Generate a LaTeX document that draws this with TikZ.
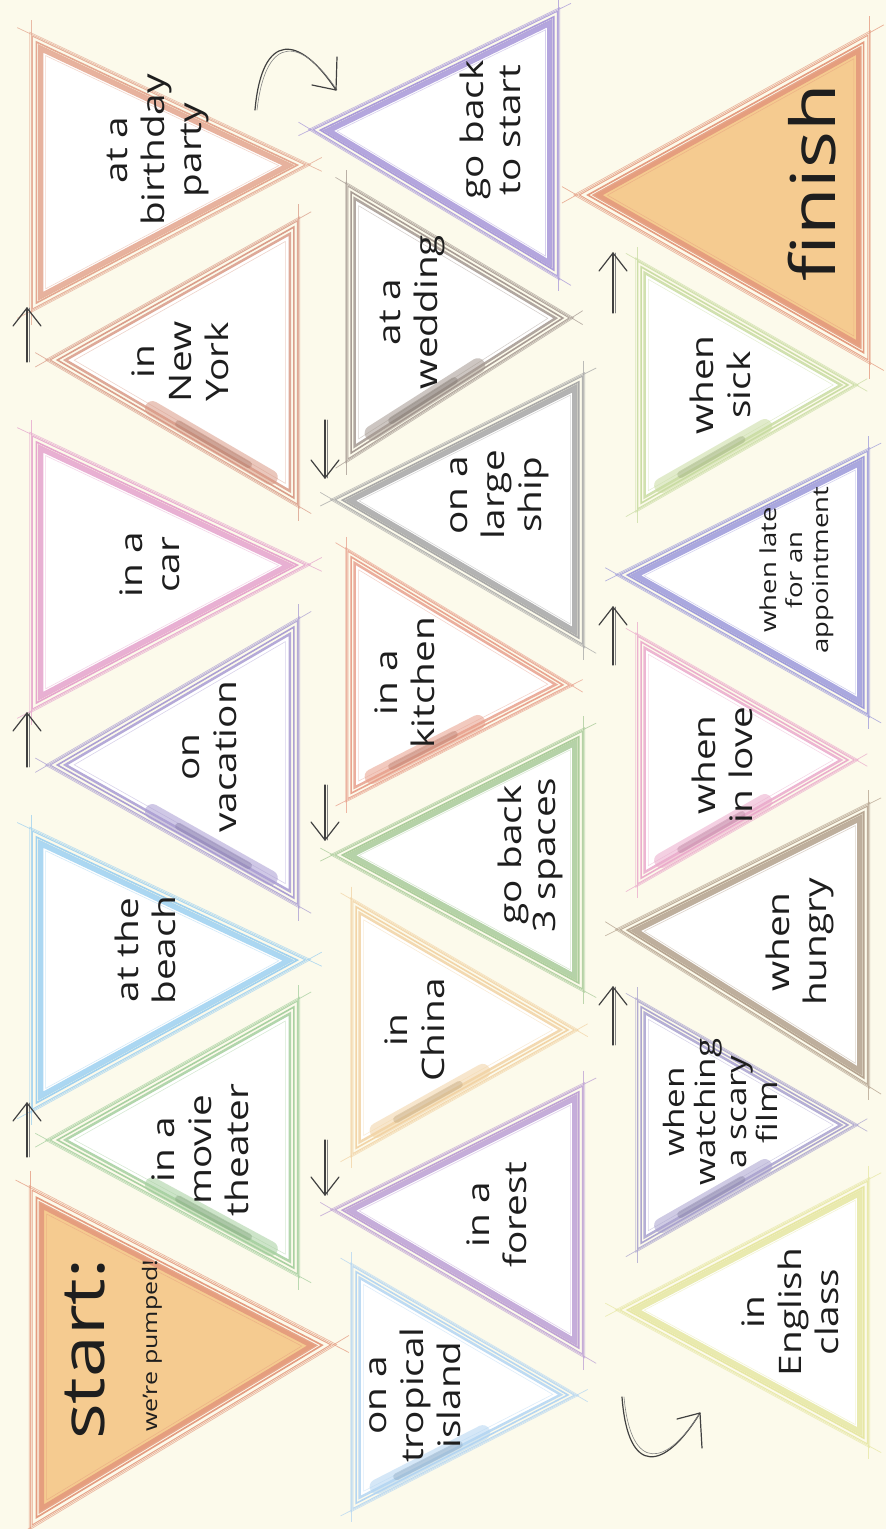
\documentclass[tikz,border=0pt]{standalone}
\usepackage{fontspec}
\setmainfont[FakeStretch=1.25]{Open Sans}
\usetikzlibrary{calc,arrows.meta}
\definecolor{bgc}{HTML}{FCFAEB}
\definecolor{cSalmon}{HTML}{E3A58E}
\definecolor{cNY}{HTML}{D99A86}
\definecolor{cPink}{HTML}{E5A3CC}
\definecolor{cLav}{HTML}{A99CD2}
\definecolor{cBlue}{HTML}{9DD0F0}
\definecolor{cGreen}{HTML}{A5CF9E}
\definecolor{cOrFill}{HTML}{F5CB90}
\definecolor{cOrLine}{HTML}{E3977B}
\definecolor{cPurp}{HTML}{A797D9}
\definecolor{cWed}{HTML}{A49890}
\definecolor{cGray}{HTML}{A6A6A6}
\definecolor{cKit}{HTML}{E8A08C}
\definecolor{cGreenB}{HTML}{A9CB99}
\definecolor{cPeach}{HTML}{F2D3A4}
\definecolor{cPurpB}{HTML}{BC9FD4}
\definecolor{cBlueB}{HTML}{B3D5F2}
\definecolor{cLime}{HTML}{C9DCA2}
\definecolor{cIndigo}{HTML}{9C99DA}
\definecolor{cPinkB}{HTML}{EBAACB}
\definecolor{cBrown}{HTML}{B3A18D}
\definecolor{cPurpC}{HTML}{A9A2CE}
\definecolor{cYellow}{HTML}{E6E7A2}
\definecolor{ink}{HTML}{1E1E1E}
\tikzset{
  lbl/.style={rotate=90, align=center, inner sep=0pt, text=ink, font=\fontsize{31}{37}\selectfont},
  hand/.style={draw=ink!85, line width=1.2pt, line cap=round, line join=round},
  handtwo/.style={draw=ink!55, line width=0.6pt, line cap=round},
}
% #1 id, #2 apex x, #3 apex y, #4 base x, #5 base top y, #6 base bottom y, #7 colour, #8 fill, #9 band width
\newcommand{\sketchtri}[9]{%
  \coordinate (#1-a) at (#2,#3);
  \coordinate (#1-b) at (#4,#5);
  \coordinate (#1-c) at (#4,#6);
  \coordinate (#1-g) at ({(#2+2*#4)/3},{(#3+#5+#6)/3});
  \fill[#8] ($(#1-g)!0.95!(#1-a)$) -- ($(#1-g)!0.95!(#1-b)$) -- ($(#1-g)!0.95!(#1-c)$) -- cycle;
  \draw[#7, line width=#9, opacity=0.85, line join=miter]
      ($(#1-g)!0.935!(#1-a)$) -- ($(#1-g)!0.935!(#1-b)$) -- ($(#1-g)!0.935!(#1-c)$) -- cycle;
  \foreach \f/\w/\o in {0.985/1.6pt/0.95, 1.03/1pt/0.85, 1.06/0.7pt/0.65, 0.88/0.6pt/0.45}{
    \draw[#7, line width=\w, opacity=\o, line join=miter]
      ($(#1-g)!\f!(#1-a)$) -- ($(#1-g)!\f!(#1-b)$) -- ($(#1-g)!\f!(#1-c)$) -- cycle;
  }
  \coordinate (#1-a2) at ($(#1-g)!1.045!(#1-a)$);
  \coordinate (#1-b2) at ($(#1-g)!1.045!(#1-b)$);
  \coordinate (#1-c2) at ($(#1-g)!1.045!(#1-c)$);
  \foreach \p/\q in {a/b,b/c,c/a}{
    \draw[#7, line width=0.7pt, opacity=0.75]
      ($(#1-\p2)!-0.05!(#1-\q2)$) -- ($(#1-\q2)!-0.05!(#1-\p2)$);
  }
}
\newcommand{\smudge}[2]{%
  \coordinate (#1-c1) at ($(#1-g)!0.91!(#1-c)$);
  \coordinate (#1-a1) at ($(#1-g)!0.91!(#1-a)$);
  \draw[#2, line width=15pt, opacity=0.55, line cap=round]
    ($(#1-c1)!0.08!(#1-a1)$) -- ($(#1-c1)!0.62!(#1-a1)$);
  \draw[#2!80!black, line width=7pt, opacity=0.45, line cap=round]
    ($(#1-c1)!0.18!(#1-a1)$) -- ($(#1-c1)!0.5!(#1-a1)$);
}
% straight hand arrow: start, end, wing dy (positive = wings below tip)
\newcommand{\handarrow}[3]{%
  \draw[hand] (#1) -- (#2);
  \draw[handtwo] ([xshift=2pt]#1) -- ([xshift=2pt]#2);
  \draw[hand] ([shift={(-14,#3)}]#2) -- (#2) -- ([shift={(14,#3)}]#2);
}
\begin{document}
\begin{tikzpicture}[x=1pt,y={(0pt,-1pt)}]
\useasboundingbox (0,0) rectangle (886,1529);
\fill[bgc] (0,0) rectangle (886,1529);

% column 1
\sketchtri{t1}{300}{165}{35}{40}{305}{cSalmon}{white}{5.5pt}
\sketchtri{t2}{55}{360}{295}{225}{500}{cNY}{white}{2.5pt}\smudge{t2}{cNY}
\sketchtri{t3}{300}{565}{35}{440}{705}{cPink}{white}{5.5pt}
\sketchtri{t4}{55}{765}{295}{625}{900}{cLav}{white}{2.5pt}\smudge{t4}{cLav}
\sketchtri{t5}{300}{960}{35}{835}{1105}{cBlue}{white}{5.5pt}
\sketchtri{t6}{55}{1140}{295}{1005}{1270}{cGreen}{white}{2.5pt}\smudge{t6}{cGreen}
\sketchtri{st}{325}{1345}{35}{1195}{1520}{cOrLine}{cOrFill}{5.5pt}

% column 2
\sketchtri{u1}{318}{130}{555}{15}{272}{cPurp}{white}{5.5pt}
\sketchtri{u2}{565}{318}{350}{190}{455}{cWed}{white}{2.5pt}\smudge{u2}{cWed}
\sketchtri{u3}{340}{500}{580}{380}{640}{cGray}{white}{5.5pt}
\sketchtri{u4}{565}{685}{350}{555}{795}{cKit}{white}{2.5pt}\smudge{u4}{cKit}
\sketchtri{u5}{340}{855}{580}{735}{985}{cGreenB}{white}{5.5pt}
\sketchtri{u6}{570}{1030}{355}{905}{1150}{cPeach}{white}{2.5pt}\smudge{u6}{cPeach}
\sketchtri{u7}{340}{1210}{580}{1090}{1350}{cPurpB}{white}{5.5pt}
\sketchtri{u8}{570}{1395}{355}{1270}{1505}{cBlueB}{white}{2.5pt}\smudge{u8}{cBlueB}

% column 3
\sketchtri{fi}{585}{195}{865}{40}{355}{cOrLine}{cOrFill}{5.5pt}
\sketchtri{v1}{850}{385}{640}{265}{505}{cLime}{white}{2.5pt}\smudge{v1}{cLime}
\sketchtri{v2}{625}{575}{865}{455}{710}{cIndigo}{white}{5.5pt}
\sketchtri{v3}{850}{760}{640}{640}{880}{cPinkB}{white}{2.5pt}\smudge{v3}{cPinkB}
\sketchtri{v4}{625}{930}{865}{810}{1080}{cBrown}{white}{5.5pt}
\sketchtri{v5}{850}{1125}{640}{1005}{1245}{cPurpC}{white}{2.5pt}\smudge{v5}{cPurpC}
\sketchtri{v6}{625}{1310}{865}{1185}{1440}{cYellow}{white}{5.5pt}

% labels
\node[lbl] (l-t1) at (158,150) {at a\\birthday\\party};
\node[lbl] (l-t2) at (180,362) {in\\New\\York};
\node[lbl] (l-t3) at (150,565) {in a\\car};
\node[lbl] (l-t4) at (210,757) {on\\vacation};
\node[lbl] (l-t5) at (145,950) {at the\\beach};
\node[lbl] (l-t6) at (200,1150) {in a\\movie\\theater};
\node[lbl, anchor=west, font=\fontsize{60}{60}\selectfont] (l-st) at (85,1440) {start:};
\node[lbl, anchor=west, font=\fontsize{20}{20}\selectfont] (l-st2) at (152,1432) {we’re pumped!};

\node[lbl] (l-u1) at (490,130) {go back\\to start};
\node[lbl] (l-u2) at (413,312) {at a\\wedding};
\node[lbl] (l-u3) at (500,495) {on a\\large\\ship};
\node[lbl] (l-u4) at (405,683) {in a\\kitchen};
\node[lbl, font=\fontsize{31}{34}\selectfont] (l-u5) at (530,855) {go back\\3 spaces};
\node[lbl] (l-u6) at (415,1030) {in\\China};
\node[lbl] (l-u7) at (497,1215) {in a\\forest};
\node[lbl] (l-u8) at (415,1395) {on a\\tropical\\island};

\node[lbl, font=\fontsize{62}{62}\selectfont] (l-fi) at (812,183) {finish};
\node[lbl] (l-v1) at (720,385) {when\\sick};
\node[lbl, font=\fontsize{22}{26}\selectfont] (l-v2) at (797,570) {when late\\for an\\appointment};
\node[lbl] (l-v3) at (722,765) {when\\in love};
\node[lbl] (l-v4) at (800,942) {when\\hungry};
\node[lbl, font=\fontsize{28}{31}\selectfont] (l-v5) at (720,1112) {when\\watching\\a scary\\film};
\node[lbl] (l-v6) at (790,1312) {in\\English\\class};

% arrows
\coordinate (p1s) at (27,362);  \coordinate (p1e) at (27,308);
\coordinate (p2s) at (27,767);  \coordinate (p2e) at (27,713);
\coordinate (p3s) at (27,1157); \coordinate (p3e) at (27,1103);
\coordinate (q1s) at (325,420); \coordinate (q1e) at (325,478);
\coordinate (q2s) at (325,785); \coordinate (q2e) at (325,840);
\coordinate (q3s) at (325,1140);\coordinate (q3e) at (325,1195);
\coordinate (r1s) at (613,313); \coordinate (r1e) at (613,253);
\coordinate (r2s) at (613,665); \coordinate (r2e) at (613,607);
\coordinate (r3s) at (613,1045);\coordinate (r3e) at (613,987);
\handarrow{p1s}{p1e}{18}
\handarrow{p2s}{p2e}{18}
\handarrow{p3s}{p3e}{18}
\handarrow{q1s}{q1e}{-18}
\handarrow{q2s}{q2e}{-18}
\handarrow{q3s}{q3e}{-18}
\handarrow{r1s}{r1e}{18}
\handarrow{r2s}{r2e}{18}
\handarrow{r3s}{r3e}{18}

\coordinate (ca-s) at (255,110); \coordinate (ca-e) at (336,90);
\draw[hand] (ca-s) .. controls (262,30) and (300,35) .. (ca-e);
\draw[handtwo] ([xshift=2pt]ca-s) .. controls (266,32) and (302,38) .. ([xshift=1pt]ca-e);
\draw[hand] ([shift={(-24,-5)}]ca-e) -- (ca-e) -- ([shift={(1,-33)}]ca-e);
\coordinate (cb-s) at (622,1397); \coordinate (cb-e) at (700,1413);
\draw[hand] (cb-s) .. controls (628,1478) and (665,1470) .. (cb-e);
\draw[handtwo] ([xshift=2pt]cb-s) .. controls (631,1474) and (667,1466) .. (cb-e);
\draw[hand] ([shift={(-23,6)}]cb-e) -- (cb-e) -- ([shift={(2,35)}]cb-e);
\end{tikzpicture}
\end{document}
